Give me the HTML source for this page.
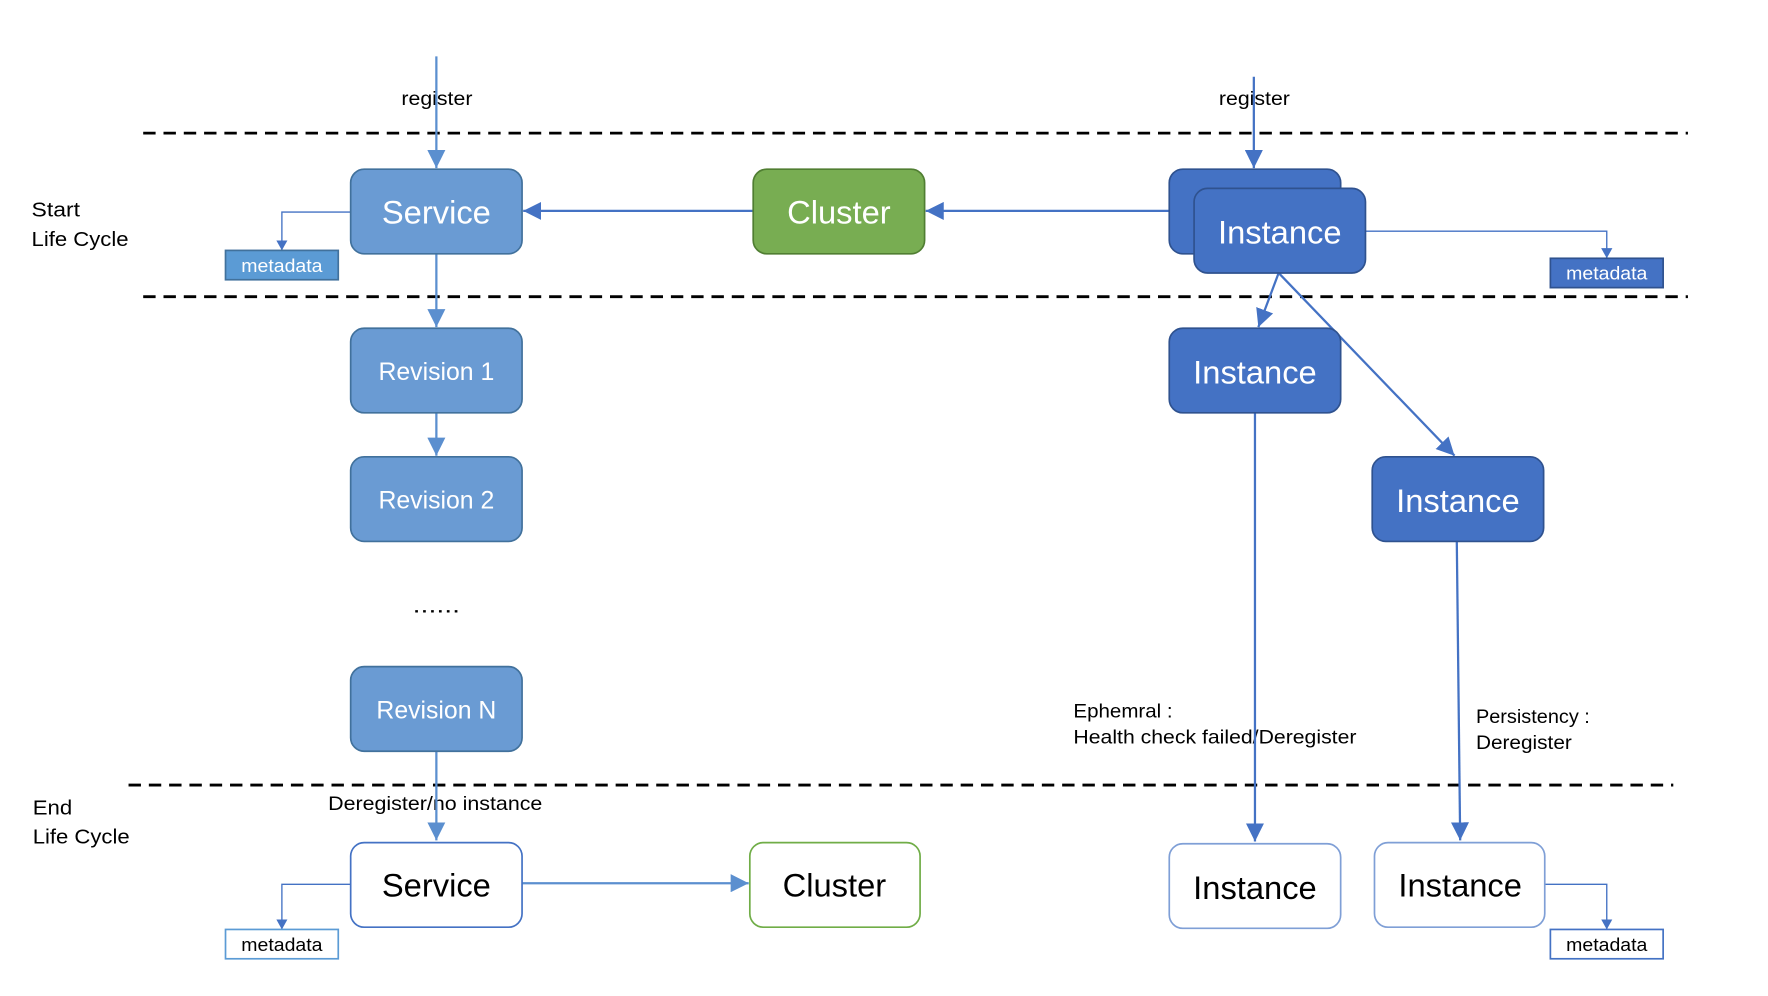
<!DOCTYPE html>
<html><head><meta charset="utf-8"><style>html,body{margin:0;padding:0;background:#fff}svg{display:block}</style></head>
<body>
<svg width="1768" height="996" viewBox="0 0 1568 883" preserveAspectRatio="none" xmlns="http://www.w3.org/2000/svg" font-family="Liberation Sans, DejaVu Sans, sans-serif">
<defs>
<marker id="a" markerUnits="userSpaceOnUse" markerWidth="18" markerHeight="16" refX="16" refY="8" orient="auto"><path d="M0,0 L16,8 L0,16 Z" fill="#4472c4"/></marker>
<marker id="b" markerUnits="userSpaceOnUse" markerWidth="18" markerHeight="16" refX="16" refY="8" orient="auto"><path d="M0,0 L16,8 L0,16 Z" fill="#5b8fcf"/></marker>
<marker id="s" markerUnits="userSpaceOnUse" markerWidth="10" markerHeight="10" refX="9" refY="5" orient="auto"><path d="M0,0 L9,5 L0,10 Z" fill="#4472c4"/></marker>
</defs>
<g stroke="#000" stroke-width="2.5" stroke-dasharray="11 7">
<line x1="127" y1="118" x2="1497" y2="118"/>
<line x1="127" y1="263" x2="1497" y2="263"/>
<line x1="114" y1="696" x2="1484" y2="696"/>
</g>
<g font-size="18" fill="#000">
<text x="28" y="192" textLength="43" lengthAdjust="spacingAndGlyphs">Start</text><text x="28" y="218" textLength="86" lengthAdjust="spacingAndGlyphs">Life Cycle</text>
<text x="29" y="722" textLength="35" lengthAdjust="spacingAndGlyphs">End</text><text x="29" y="748" textLength="86" lengthAdjust="spacingAndGlyphs">Life Cycle</text>
</g>
<g font-size="17" fill="#000">
<text x="356" y="93" textLength="63" lengthAdjust="spacingAndGlyphs">register</text>
<text x="1081" y="93" textLength="63" lengthAdjust="spacingAndGlyphs">register</text>
<text x="291" y="718" textLength="190" lengthAdjust="spacingAndGlyphs">Deregister/no instance</text>
<text x="952" y="636" textLength="88" lengthAdjust="spacingAndGlyphs">Ephemral :</text>
<text x="952" y="659" textLength="251" lengthAdjust="spacingAndGlyphs">Health check failed/Deregister</text>
<text x="1309" y="641" textLength="101" lengthAdjust="spacingAndGlyphs">Persistency :</text>
<text x="1309" y="664" textLength="85" lengthAdjust="spacingAndGlyphs">Deregister</text>
<text x="366" y="543" font-size="20" textLength="42" lengthAdjust="spacingAndGlyphs">......</text>
</g>
<g fill="none" stroke-width="2">
<line x1="387" y1="50" x2="387" y2="149" stroke="#5b8fcf" marker-end="url(#b)"/>
<line x1="1112" y1="68" x2="1112" y2="149" stroke="#4472c4" marker-end="url(#a)"/>
<line x1="1037" y1="187" x2="821" y2="187" stroke="#4472c4" marker-end="url(#a)"/>
<line x1="668" y1="187" x2="464" y2="187" stroke="#4472c4" marker-end="url(#a)"/>
<line x1="387" y1="225" x2="387" y2="290" stroke="#5b8fcf" marker-end="url(#b)"/>
<line x1="387" y1="366" x2="387" y2="404" stroke="#5b8fcf" marker-end="url(#b)"/>
<line x1="387" y1="666" x2="387" y2="745" stroke="#5b8fcf" marker-end="url(#b)"/>
<line x1="463" y1="783" x2="664" y2="783" stroke="#5b8fcf" marker-end="url(#b)"/>
<line x1="1134" y1="242" x2="1116" y2="290" stroke="#4472c4" marker-end="url(#a)"/>
<line x1="1134" y1="242" x2="1290" y2="404" stroke="#4472c4" marker-end="url(#a)"/>
<line x1="1113" y1="366" x2="1113" y2="746" stroke="#4472c4" marker-end="url(#a)"/>
<line x1="1292" y1="480" x2="1295" y2="745" stroke="#4472c4" marker-end="url(#a)"/>
</g>
<g fill="none" stroke-width="1.2" stroke="#4472c4">
<polyline points="311,188 250,188 250,222" marker-end="url(#s)"/>
<polyline points="1211,205 1425,205 1425,229" marker-end="url(#s)"/>
<polyline points="311,784 250,784 250,824" marker-end="url(#s)"/>
<polyline points="1370,784 1425,784 1425,824" marker-end="url(#s)"/>
</g>
<g stroke-width="1.5">
<rect x="311" y="150" width="152" height="75" rx="12" fill="#6a9bd3" stroke="#41719c"/>
<rect x="668" y="150" width="152" height="75" rx="12" fill="#78ad52" stroke="#507e32"/>
<rect x="1037" y="150" width="152" height="75" rx="12" fill="#4472c4" stroke="#2f528f"/>
<rect x="1059" y="167" width="152" height="75" rx="12" fill="#4472c4" stroke="#2f528f"/>
<rect x="311" y="291" width="152" height="75" rx="12" fill="#6a9bd3" stroke="#41719c"/>
<rect x="311" y="405" width="152" height="75" rx="12" fill="#6a9bd3" stroke="#41719c"/>
<rect x="311" y="591" width="152" height="75" rx="12" fill="#6a9bd3" stroke="#41719c"/>
<rect x="1037" y="291" width="152" height="75" rx="12" fill="#4472c4" stroke="#2f528f"/>
<rect x="1217" y="405" width="152" height="75" rx="12" fill="#4472c4" stroke="#2f528f"/>
<rect x="311" y="747" width="152" height="75" rx="12" fill="#fff" stroke="#4472c4"/>
<rect x="665" y="747" width="151" height="75" rx="12" fill="#fff" stroke="#70ad47"/>
<rect x="1037" y="748" width="152" height="75" rx="12" fill="#fff" stroke="#7f9fd6"/>
<rect x="1219" y="747" width="151" height="75" rx="12" fill="#fff" stroke="#7f9fd6"/>
<rect x="200" y="222" width="100" height="26" fill="#5b9bd5" stroke="#41719c"/>
<rect x="1375" y="229" width="100" height="26" fill="#4472c4" stroke="#2f528f"/>
<rect x="200" y="824" width="100" height="26" fill="#fff" stroke="#5b9bd5"/>
<rect x="1375" y="824" width="100" height="26" fill="#fff" stroke="#4472c4"/>
</g>
<g font-size="29" text-anchor="middle" fill="#fff">
<text x="387" y="198">Service</text>
<text x="744" y="198">Cluster</text>
<text x="1135" y="216">Instance</text>
<text x="1113" y="340">Instance</text>
<text x="1293" y="454">Instance</text>
</g>
<g font-size="22" text-anchor="middle" fill="#fff">
<text x="387" y="337">Revision 1</text>
<text x="387" y="451">Revision 2</text>
<text x="387" y="637">Revision N</text>
</g>
<g font-size="29" text-anchor="middle" fill="#000">
<text x="387" y="795">Service</text>
<text x="740" y="795">Cluster</text>
<text x="1113" y="797">Instance</text>
<text x="1295" y="795">Instance</text>
</g>
<g font-size="16">
<text x="214" y="241" fill="#fff" textLength="72" lengthAdjust="spacingAndGlyphs">metadata</text>
<text x="1389" y="248" fill="#fff" textLength="72" lengthAdjust="spacingAndGlyphs">metadata</text>
<text x="214" y="843" fill="#000" textLength="72" lengthAdjust="spacingAndGlyphs">metadata</text>
<text x="1389" y="843" fill="#000" textLength="72" lengthAdjust="spacingAndGlyphs">metadata</text>
</g>
</svg>
</body></html>
